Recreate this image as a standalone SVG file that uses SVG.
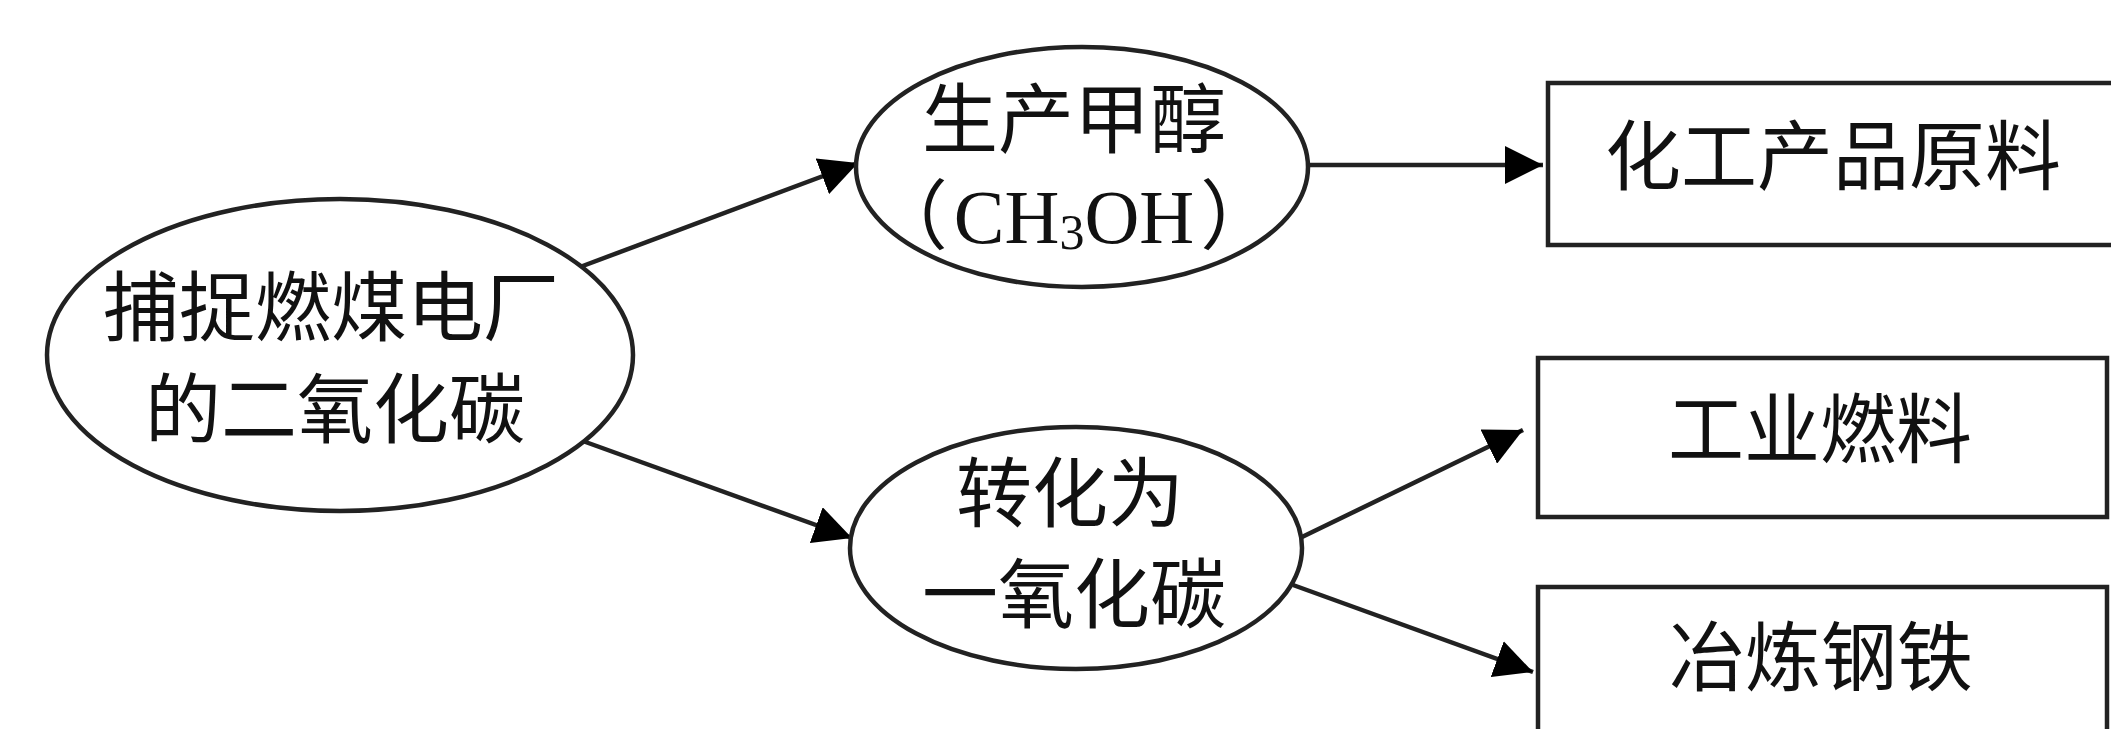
<svg xmlns="http://www.w3.org/2000/svg" width="2111" height="729" viewBox="0 0 2111 729">
<defs>
<style>
.shape{fill:#fff;stroke:#222;stroke-width:4.5}
.cn{font-family:"Noto Sans CJK SC","Noto Sans",sans-serif;font-size:76px;fill:#111;text-anchor:middle}
.lat{font-family:"Liberation Serif",serif;fill:#111}
.conn line{stroke:#222;stroke-width:4.5;fill:none}
</style>
<marker id="arr" markerUnits="userSpaceOnUse" markerWidth="40" markerHeight="38" refX="38" refY="19" orient="auto">
<path d="M0,0 L38,19 L0,38 z" fill="#000"/>
</marker>
</defs>
<rect width="2111" height="729" fill="#fff"/>
<g id="connectors" class="conn">
<line x1="580" y1="267" x2="858" y2="163" marker-end="url(#arr)"/>
<line x1="580" y1="440" x2="852" y2="538" marker-end="url(#arr)"/>
<line x1="1309" y1="165" x2="1543" y2="165" marker-end="url(#arr)"/>
<line x1="1302" y1="537" x2="1523" y2="430" marker-end="url(#arr)"/>
<line x1="1293" y1="585" x2="1533" y2="672" marker-end="url(#arr)"/>
</g>
<g id="capture">
<ellipse class="shape" cx="340" cy="355" rx="293" ry="156"/>
<text class="cn" x="331" y="335">捕捉燃煤电厂</text>
<text class="cn" x="335" y="437">的二氧化碳</text>
</g>
<g id="methanol">
<ellipse class="shape" cx="1082" cy="167" rx="226" ry="120"/>
<text class="cn" x="1074" y="147">生产甲醇</text>
<text class="cn" x="1074" y="243">（<tspan class="lat" dx="6">CH</tspan><tspan class="lat" font-size="50" dy="6">3</tspan><tspan class="lat" dy="-6">OH</tspan><tspan dx="6">）</tspan></text>
</g>
<g id="co">
<ellipse class="shape" cx="1076" cy="548" rx="226" ry="121"/>
<text class="cn" x="1070" y="521">转化为</text>
<text class="cn" x="1074" y="622">一氧化碳</text>
</g>
<g id="raw">
<rect class="shape" x="1548" y="83" width="580" height="162"/>
<text class="cn" x="1833" y="184">化工产品原料</text>
</g>
<g id="fuel">
<rect class="shape" x="1538" y="358" width="569" height="159"/>
<text class="cn" x="1820" y="457">工业燃料</text>
</g>
<g id="steel">
<rect class="shape" x="1538" y="587" width="569" height="170"/>
<text class="cn" x="1821" y="685">冶炼钢铁</text>
</g>
</svg>
